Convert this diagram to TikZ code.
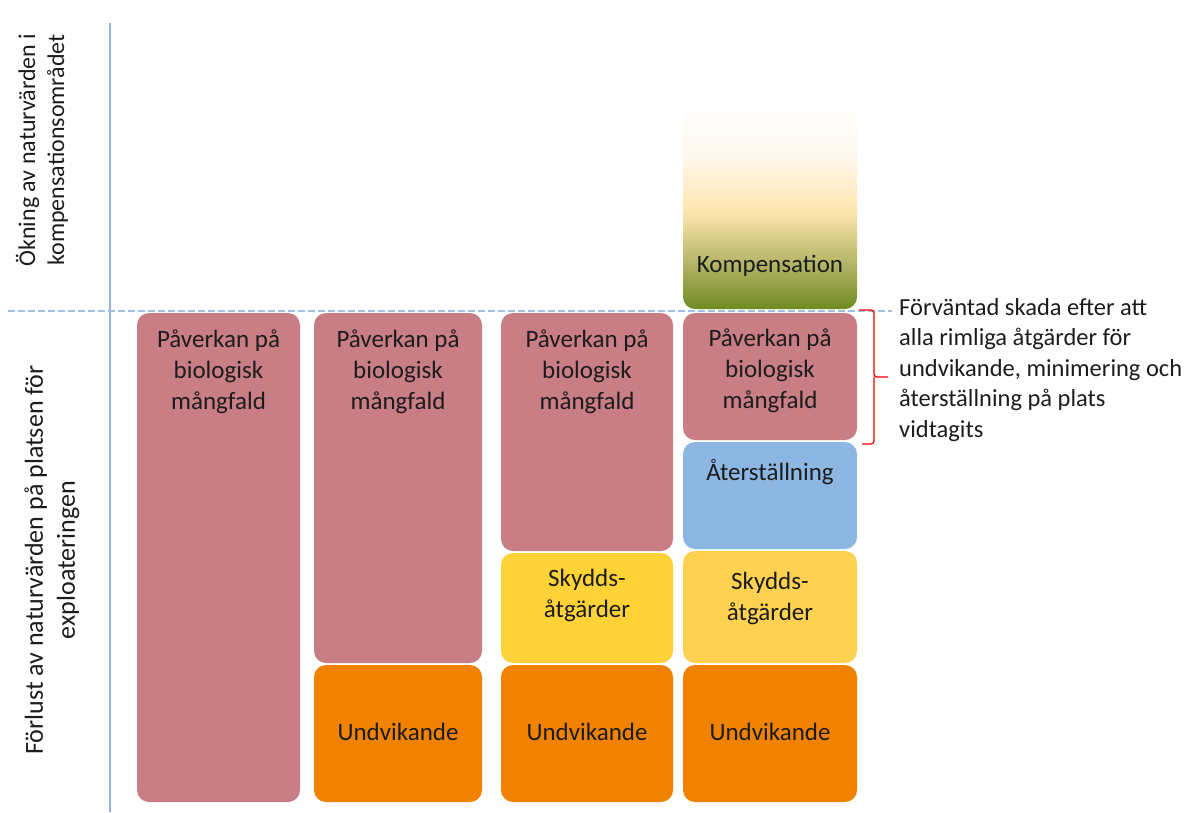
\documentclass[tikz,border=0pt]{standalone}
\usepackage{fontspec}
\setmainfont{Carlito}
\usetikzlibrary{positioning}
\definecolor{pavcol}{HTML}{C97D84}
\definecolor{undcol}{HTML}{F08200}
\definecolor{skycol}{HTML}{FFD238}
\definecolor{skycolb}{HTML}{FED250}
\definecolor{atecol}{HTML}{8DB7E3}
\definecolor{axcol}{HTML}{92B5DE}
\definecolor{dashcol}{HTML}{9FBFE3}
\definecolor{txtcol}{HTML}{1C1C1C}
\definecolor{kompdark}{HTML}{6F8A20}
\definecolor{kompmid}{HTML}{B3B466}
\definecolor{komplight}{HTML}{FFE6AF}
\definecolor{kompfade}{HTML}{FFF7EC}
\pgfdeclareverticalshading{kompshade}{100bp}{color(0bp)=(kompdark); color(25bp)=(kompdark); color(36bp)=(kompmid); color(49bp)=(komplight); color(62bp)=(kompfade); color(75bp)=(white); color(100bp)=(white)}
\begin{document}
\begin{tikzpicture}[x=1pt, y=-1pt,
		every node/.style={font=\fontsize{25}{31}\selectfont,
			text=txtcol,
			align=center,
			inner sep=0pt,
		},
		box/.style={rounded corners=12pt, anchor=north west, outer sep=0pt},
		colA/.style={minimum width=163pt},
		colB/.style={minimum width=168pt},
		colC/.style={minimum width=172pt},
		colD/.style={minimum width=174pt},
		axlabel/.style={rotate=90, font=\fontsize{24}{29}\selectfont},
		brace/.style={draw=red, line width=1.3pt, rounded corners=3pt},
	]
	\useasboundingbox (0,0) rectangle (1196,812);

	% axis
	\draw[axcol, line width=2.6pt] (110,23) -- (110,812);
	\node (gain) [axlabel] at (42,150) {Ökning av naturvärden i\\kompensationsområdet};
	\node (loss) [axlabel, font=\fontsize{26}{32}\selectfont] at (52,560) {Förlust av naturvärden på platsen för\\exploateringen};

	% column 1
	\node (pav1) [box, colA, fill=pavcol, minimum height=489pt] at (137,313) {};
	\node [anchor=base, yshift=-96pt] at (pav1.north) {Påverkan på\\biologisk\\mångfald};

	% column 2
	\node (pav2) [box, colB, fill=pavcol, minimum height=350pt] at (314,313) {};
	\node [anchor=base, yshift=-96pt] at (pav2.north) {Påverkan på\\biologisk\\mångfald};
	\node (und2) [box, colB, fill=undcol, minimum height=137pt] at (314,665) {};
	\node [anchor=base, yshift=-75pt] at (und2.north) {Undvikande};

	% column 3
	\node (pav3) [box, colC, fill=pavcol, minimum height=238pt] at (501,313) {};
	\node [anchor=base, yshift=-96pt] at (pav3.north) {Påverkan på\\biologisk\\mångfald};
	\node (sky3) [box, colC, fill=skycol, minimum height=110pt] at (501,553) {};
	\node [anchor=base, yshift=-64pt] at (sky3.north) {Skydds-\\åtgärder};
	\node (und3) [box, colC, fill=undcol, minimum height=137pt] at (501,665) {};
	\node [anchor=base, yshift=-75pt] at (und3.north) {Undvikande};

	% column 4
	\node (komp4) [box, colD, shade, shading=kompshade, minimum height=204pt] at (683,105) {};
	\node [anchor=base, yshift=37pt] at (komp4.south) {Kompensation};
	\node (pav4) [box, colD, fill=pavcol, minimum height=127pt] at (683,313) {};
	\node [anchor=base, yshift=-95pt] at (pav4.north) {Påverkan på\\biologisk\\mångfald};
	\node (ate4) [box, colD, fill=atecol, minimum height=107pt] at (683,442) {};
	\node [anchor=base, yshift=-38pt] at (ate4.north) {Återställning};
	\node (sky4) [box, colD, fill=skycolb, minimum height=112pt] at (683,551) {};
	\node [anchor=base, yshift=-69pt] at (sky4.north) {Skydds-\\åtgärder};
	\node (und4) [box, colD, fill=undcol, minimum height=137pt] at (683,665) {};
	\node [anchor=base, yshift=-75pt] at (und4.north) {Undvikande};

	% zero line
	\draw[dashcol, line width=1.6pt, dash pattern=on 7pt off 3pt] (8,311) -- (892,311);

	% bracket and note
	\coordinate (bt) at (859,310);
	\coordinate (bb) at (862,444);
	\coordinate (bm) at (888,377);
	\draw[brace] (bt) -| (874,377) -- (bm);
	\draw[brace] (bb) -| (874,377);
	\node (note) [anchor=base west, align=left, font=\fontsize{24.5}{30.5}\selectfont] at (899,437) {Förväntad skada efter att\\alla rimliga åtgärder för\\undvikande, minimering och\\återställning på plats\\vidtagits};
\end{tikzpicture}
\end{document}
